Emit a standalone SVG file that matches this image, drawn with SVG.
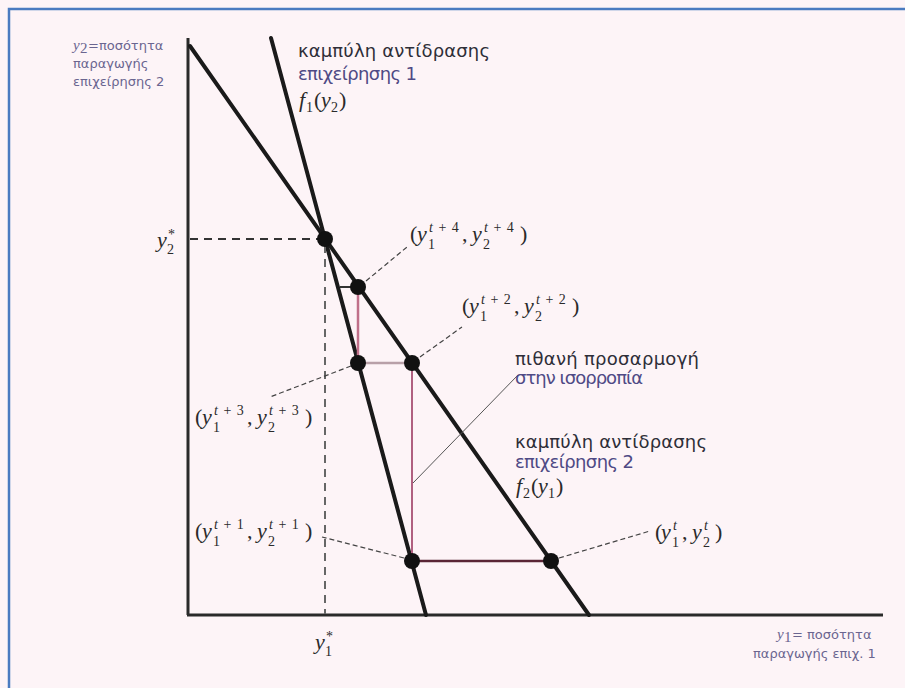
<svg xmlns="http://www.w3.org/2000/svg" width="905" height="688" viewBox="0 0 905 688">
<style>
.m{font-family:"Liberation Serif",serif;font-size:22px;fill:#2a2a2a}
.mi{font-style:italic}
.s{font-size:14px}
.sp{letter-spacing:1px}
.g{font-family:"DejaVu Sans",sans-serif;font-size:18px;fill:#2e2e38}
.gp{fill:#4f4a85}
.ax{font-family:"DejaVu Sans",sans-serif;font-size:13px;fill:#6a6590}
.axm{font-family:"Liberation Serif",serif;font-size:15px;fill:#6a6590}
.curve{stroke:#1a1a1a;stroke-width:4;fill:none;stroke-linecap:round}
.axis{stroke:#2a2a2a;stroke-width:3;fill:none}
.dash{stroke-width:2;stroke-dasharray:8 6;fill:none}
.lead{stroke:#444;stroke-width:1.2;stroke-dasharray:5 3;fill:none}
.dot{fill:#111}
</style>
<rect x="0" y="0" width="905" height="688" fill="#fdf4f7"/>
<rect x="9" y="9" width="910" height="700" fill="none" stroke="#4a7bc0" stroke-width="2.5"/>

<g id="axes">
<line class="axis" x1="188" y1="38" x2="188" y2="615"/>
<line class="axis" x1="187" y1="615" x2="883" y2="615"/>
</g>

<g id="connectors">
<line class="curve" x1="190" y1="46" x2="589" y2="615"/>
<line class="curve" x1="271" y1="38" x2="426" y2="615"/>
<line class="dash" stroke="#333" x1="190" y1="239" x2="322" y2="239"/>
<line class="dash" stroke="#666" x1="325" y1="245" x2="325" y2="614"/>
<line stroke="#333" stroke-width="2" x1="340" y1="287" x2="358" y2="287"/>
<line stroke="#c0708a" stroke-width="2.5" x1="358" y1="287" x2="358" y2="363"/>
<line stroke="#b8a0a8" stroke-width="2.5" x1="358" y1="363" x2="412" y2="363"/>
<line stroke="#b06080" stroke-width="2" x1="412" y1="363" x2="412" y2="561"/>
<line stroke="#5a2535" stroke-width="2.5" x1="412" y1="561" x2="551" y2="561"/>
<line class="lead" x1="366" y1="281" x2="407" y2="247"/>
<line class="lead" x1="420" y1="357" x2="462" y2="327"/>
<line class="lead" x1="351" y1="366" x2="270" y2="397"/>
<line class="lead" x1="404" y1="558" x2="322" y2="537"/>
<line class="lead" x1="559" y1="558" x2="650" y2="531"/>
<line stroke="#555" stroke-width="1" x1="413" y1="483" x2="518" y2="375"/>
</g>

<g id="eq"><circle class="dot" cx="325" cy="239" r="8"/></g>
<g id="p4"><circle class="dot" cx="358" cy="287" r="8"/></g>
<g id="p3"><circle class="dot" cx="358" cy="363" r="8"/></g>
<g id="p2"><circle class="dot" cx="412" cy="363" r="8"/></g>
<g id="p1"><circle class="dot" cx="412" cy="561" r="8"/></g>
<g id="p0"><circle class="dot" cx="551" cy="561" r="8"/></g>

<g id="label-y2star">
<text class="m mi" x="157" y="247">y</text>
<text class="m s" x="167" y="254">2</text>
<text class="m s" x="168" y="239">*</text>
</g>
<g id="label-y1star">
<text class="m mi" x="315" y="649">y</text>
<text class="m s" x="325" y="656">1</text>
<text class="m s" x="326" y="641">*</text>
</g>

<g id="label-t4" transform="translate(410,241)">
<text class="m" x="0" y="0">(</text><text class="m mi" x="7" y="0">y</text>
<text class="m s" x="18" y="8">1</text><text class="m s sp" x="19" y="-9"><tspan class="mi">t</tspan> + 4</text>
<text class="m" x="52" y="0">,</text><text class="m mi" x="62" y="0">y</text>
<text class="m s" x="73" y="8">2</text><text class="m s sp" x="74" y="-9"><tspan class="mi">t</tspan> + 4</text>
<text class="m" x="110" y="0">)</text>
</g>
<g id="label-t2" transform="translate(462,313)">
<text class="m" x="0" y="0">(</text><text class="m mi" x="7" y="0">y</text>
<text class="m s" x="18" y="8">1</text><text class="m s sp" x="19" y="-9"><tspan class="mi">t</tspan> + 2</text>
<text class="m" x="52" y="0">,</text><text class="m mi" x="62" y="0">y</text>
<text class="m s" x="73" y="8">2</text><text class="m s sp" x="74" y="-9"><tspan class="mi">t</tspan> + 2</text>
<text class="m" x="110" y="0">)</text>
</g>
<g id="label-t3" transform="translate(195,424)">
<text class="m" x="0" y="0">(</text><text class="m mi" x="7" y="0">y</text>
<text class="m s" x="18" y="8">1</text><text class="m s sp" x="19" y="-9"><tspan class="mi">t</tspan> + 3</text>
<text class="m" x="52" y="0">,</text><text class="m mi" x="62" y="0">y</text>
<text class="m s" x="73" y="8">2</text><text class="m s sp" x="74" y="-9"><tspan class="mi">t</tspan> + 3</text>
<text class="m" x="110" y="0">)</text>
</g>
<g id="label-t1" transform="translate(195,538)">
<text class="m" x="0" y="0">(</text><text class="m mi" x="7" y="0">y</text>
<text class="m s" x="18" y="8">1</text><text class="m s sp" x="19" y="-9"><tspan class="mi">t</tspan> + 1</text>
<text class="m" x="52" y="0">,</text><text class="m mi" x="62" y="0">y</text>
<text class="m s" x="73" y="8">2</text><text class="m s sp" x="74" y="-9"><tspan class="mi">t</tspan> + 1</text>
<text class="m" x="110" y="0">)</text>
</g>
<g id="label-t0" transform="translate(655,539)">
<text class="m" x="0" y="0">(</text><text class="m mi" x="6" y="0">y</text>
<text class="m s" x="17" y="8">1</text><text class="m s mi" x="18" y="-9">t</text>
<text class="m" x="27" y="0">,</text><text class="m mi" x="37" y="0">y</text>
<text class="m s" x="48" y="8">2</text><text class="m s mi" x="49" y="-9">t</text>
<text class="m" x="60" y="0">)</text>
</g>

<g id="label-f1">
<text class="g" x="298" y="57" textLength="192">καμπύλη αντίδρασης</text>
<text class="g gp" x="298" y="80" textLength="119">επιχείρησης 1</text>
<text class="m mi" x="299" y="107">f</text>
<text class="m s" x="306" y="112">1</text>
<text class="m" x="314" y="107">(</text>
<text class="m mi" x="321" y="107">y</text>
<text class="m s" x="331" y="112">2</text>
<text class="m" x="339" y="107">)</text>
</g>

<g id="label-adjust">
<text class="g" x="515" y="365" textLength="184">πιθανή προσαρμογή</text>
<text class="g gp" x="515" y="384" textLength="128">στην ισορροπία</text>
</g>

<g id="label-f2">
<text class="g" x="515" y="448" textLength="192">καμπύλη αντίδρασης</text>
<text class="g gp" x="515" y="468" textLength="119">επιχείρησης 2</text>
<text class="m mi" x="516" y="493">f</text>
<text class="m s" x="523" y="498">2</text>
<text class="m" x="531" y="493">(</text>
<text class="m mi" x="538" y="493">y</text>
<text class="m s" x="548" y="498">1</text>
<text class="m" x="556" y="493">)</text>
</g>

<g id="label-yaxis">
<text class="axm mi" x="73" y="50">y</text>
<text class="axm" x="80" y="53" font-size="10">2</text>
<text class="ax" x="88" y="50">=ποσότητα</text>
<text class="ax" x="73" y="68">παραγωγής</text>
<text class="ax" x="73" y="86">επιχείρησης 2</text>
</g>

<g id="label-xaxis">
<text class="axm mi" x="777" y="639">y</text>
<text class="axm" x="784" y="642" font-size="10">1</text>
<text class="ax" x="792" y="639">= ποσότητα</text>
<text class="ax" x="753" y="658">παραγωγής επιχ. 1</text>
</g>
</svg>
